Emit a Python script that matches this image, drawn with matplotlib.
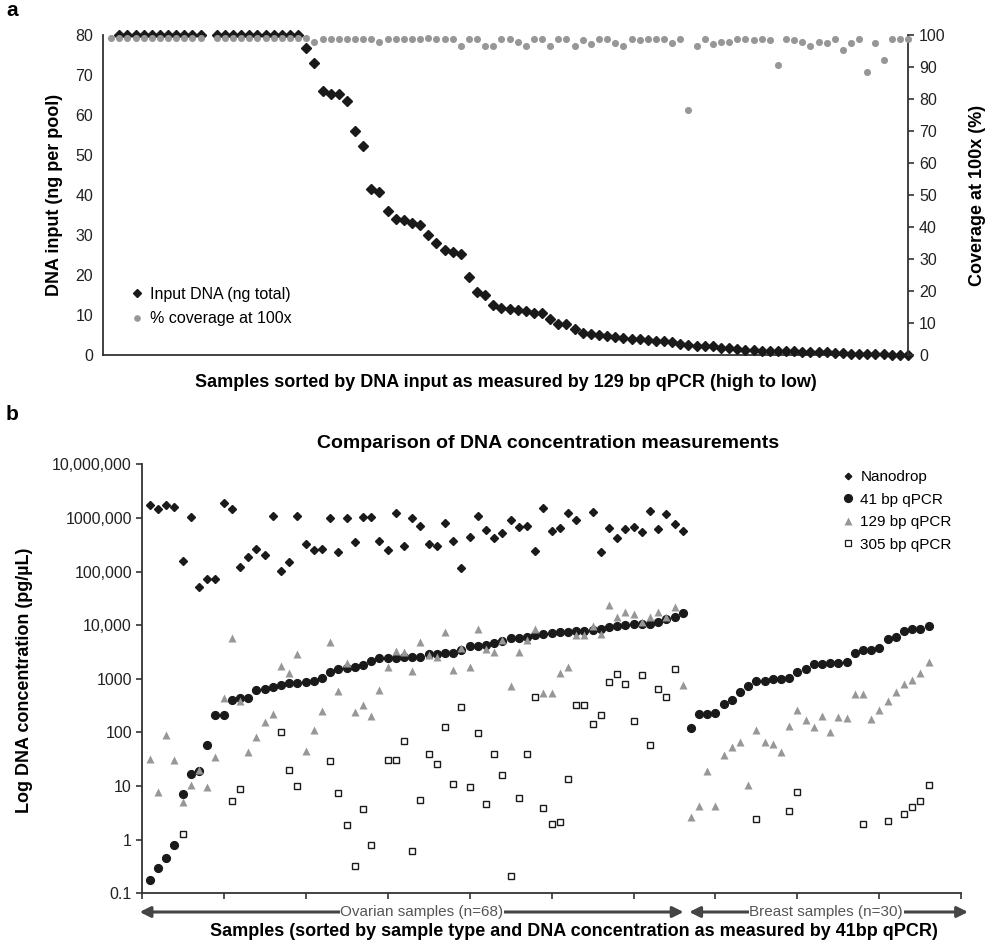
import numpy as np
import matplotlib
matplotlib.use('Agg')
import matplotlib.pyplot as plt
from matplotlib.lines import Line2D
from matplotlib.ticker import NullLocator
import matplotlib.transforms as mtransforms

plt.rcParams['font.family'] = ['Liberation Sans', 'DejaVu Sans']

nan = np.nan

# ---- panel a: samples sorted by 129 bp qPCR input (x = 1..99) ----
input_ng = [nan] + [80] * 11 + [nan] + [80] * 11 + [
    76.8, 73.1, 65.9, 65.3, 65.3, 63.4, 55.9, 52.3, 41.5, 40.7,
    36.0, 33.9, 33.7, 33.1, 32.5, 30.1, 28.1, 26.2, 25.7, 25.3,
    19.4, 15.8, 15.0, 12.5, 11.7, 11.5, 11.2, 11.0, 10.4, 10.4,
    9.1, 7.7, 7.7, 6.5, 5.4, 5.2, 5.1, 4.8, 4.6, 4.2,
    4.0, 4.0, 3.7, 3.5, 3.4, 3.2, 2.7, 2.5, 2.2, 2.2,
    2.2, 1.8, 1.7, 1.4, 1.3, 1.3, 1.1, 1.1, 1.0, 1.0,
    1.0, 0.8, 0.8, 0.8, 0.7, 0.5, 0.4, 0.3, 0.3, 0.2,
    0.2, 0.2, 0.1, 0.1, 0.1]

coverage = [99.0] * 12 + [nan] + [99.0] * 11 + [
    99.2, 97.7, 98.6, 98.8, 98.8, 98.8, 98.8, 98.8, 98.8, 97.9,
    98.8, 98.8, 98.8, 98.6, 98.6, 99.0, 98.7, 98.8, 98.8, 96.7,
    98.8, 98.8, 96.7, 96.7, 98.8, 98.8, 97.9, 96.7, 98.8, 98.8,
    96.7, 98.8, 98.8, 96.7, 98.4, 97.2, 98.8, 98.8, 97.6, 96.7,
    98.8, 98.4, 98.8, 98.8, 98.8, 97.6, 98.8, 76.5, 96.7, 98.8,
    97.2, 97.9, 97.9, 98.8, 98.8, 98.4, 98.8, 98.4, 90.7, 98.8,
    98.4, 97.7, 96.7, 97.7, 97.6, 98.8, 95.2, 97.4, 98.8, 88.4,
    97.4, 92.2, 98.8, 98.8, 98.8]

# ---- panel b: 66 ovarian + 30 breast samples ----
nanodrop = [
    1.74e6, 1.47e6, 1.74e6, 1.62e6, 1.6e5, 1.04e6, 5.07e4, 7.26e4, 7.26e4, 1.90e6,
    1.49e6, 1.20e5, 1.84e5, 2.59e5, 2.00e5, 1.10e6, 1.04e5, 1.51e5, 1.07e6, 3.26e5,
    2.48e5, 2.67e5, 9.82e5, 2.28e5, 9.82e5, 3.60e5, 1.02e6, 1.02e6, 3.76e5, 2.51e5,
    1.22e6, 3.03e5, 9.82e5, 6.97e5, 3.21e5, 3.03e5, 8.03e5, 3.71e5, 1.18e5, 4.40e5,
    1.08e6, 6.04e5, 4.29e5, 5.31e5, 9.02e5, 6.67e5, 6.97e5, 2.38e5, 1.51e6, 5.70e5,
    6.58e5, 1.25e6, 9.02e5, nan, 1.31e6, 2.35e5, 6.49e5, 4.22e5, 6.31e5, 6.67e5,
    5.38e5, 1.33e6, 6.12e5, 1.18e6, 7.59e5, 5.78e5] + [nan] * 30

qpcr_41 = [
    0.18, 0.30, 0.46, 0.80, 7.2, 17, 19, 59, 211, 211,
    397, 439, 445, 627, 645, 703, 766, 823, 823, 885,
    923, 1050, 1320, 1546, 1590, 1683, 1808, 2178, 2408, 2408,
    2408, 2548, 2587, 2587, 2900, 2930, 3027, 3070, 3444, 4150,
    4150, 4267, 4583, 5070, 5680, 5680, 6105, 6560, 6845, 7250,
    7565, 7565, 7780, 7780, 8130, 8360, 9370, 9790, 10070, 10370,
    10520, 10670, 11620, 13030, 14400, 17100,
    123, 217, 224, 233, 339, 403, 576, 745, 910, 923,
    977, 991, 1050, 1320, 1524, 1862, 1862, 1942, 2000, 2028,
    2985, 3397, 3397, 3700, 5521, 6105, 7890, 8360, 8490, 9660]

qpcr_129 = [
    32, 7.9, 90, 30, 5.1, 10.5, 19.6, 9.5, 35, 445,
    5850, 385, 44, 83, 154, 221, 1706, 1264, 2858, 45,
    111, 255, 4786, 593, 2000, 237, 325, 202, 627, 1683,
    3296, 3160, 1420, 4920, 2780, 2587, 7565, 1459, 3800, 1637,
    8490, 3594, 3208, 5295, 745, 3208, 5295, 8490, 551, 551,
    1301, 1637, 6560, 6560, 9790, 6750, 23770, 14400, 17860, 15920,
    11620, 14400, 17350, 14000, 22130, 766,
    2.7, 4.3, 19.1, 4.3, 38, 53, 65, 10.5, 109, 67,
    61, 44, 134, 262, 171, 124, 202, 103, 191, 183,
    513, 513, 178, 262, 391, 576, 788, 951, 1264, 2084]

qpcr_305 = [
    nan, nan, nan, nan, 1.3, nan, nan, nan, nan, nan,
    5.3, 8.8, nan, nan, nan, nan, 100, 20, 10, nan,
    nan, nan, 29, 7.3, 1.85, 0.32, 3.7, 0.8, nan, 30.6,
    30.6, 69, 0.62, 5.5, 39, 25.4, 124, 10.8, 294, 9.7,
    99, 4.7, 39.6, 16.1, 0.21, 6.1, 39.6, 458, 3.96, 1.94,
    2.14, 13.7, 320, 320, 146, 208, 859, 1211, 788, 163,
    1177, 58, 645, 464, 1524, nan,
    nan, nan, nan, nan, nan, nan, nan, nan, 2.4, nan,
    nan, nan, 3.4, 7.6, nan, nan, nan, nan, nan, nan,
    nan, 1.94, nan, nan, 2.26, nan, 3.0, 4.1, 5.3, 10.5]

log_ticks = [0.1, 1, 10, 100, 1000, 1e4, 1e5, 1e6, 1e7]
log_tick_labels = ['0.1', '1', '10', '100', '1000', '10,000', '100,000',
                   '1000,000', '10,000,000']

W, H = 989, 948
dark = '#1a1a1a'
grey = '#979797'
spine_c = '#333333'


def fx(px):
    return px / W


def fy(py):
    return 1 - py / H


fig = plt.figure(figsize=(W / 100, H / 100), dpi=100)

# ---------------- panel a ----------------
ax1 = fig.add_axes([fx(103), fy(355), fx(908 - 103), (355 - 35) / H])
ax2 = ax1.twinx()

x_a = np.arange(1, len(input_ng) + 1)
ax1.plot(x_a, input_ng, linestyle='none', marker='D', ms=4.6,
         color=dark, clip_on=False, zorder=3)
ax2.plot(x_a, coverage, linestyle='none', marker='o', ms=5.1,
         color=grey, mec='none', clip_on=False, zorder=3)

ax1.set_xlim(0, 99)
ax1.set_ylim(0, 80)
ax2.set_ylim(0, 100)
ax1.set_xticks([])
ax1.set_yticks(range(0, 81, 10))
ax2.set_yticks(range(0, 101, 10))
ax1.tick_params(axis='y', length=0, pad=7, labelsize=11.5, colors='#222222')
ax2.tick_params(axis='y', length=4, width=1.2, pad=4, labelsize=11.5,
                colors='#222222', color=spine_c)

for sp in ['top', 'right']:
    ax1.spines[sp].set_visible(False)
for sp in ['top', 'left', 'bottom']:
    ax2.spines[sp].set_visible(False)
for sp in ['left', 'bottom']:
    ax1.spines[sp].set_linewidth(1.3)
    ax1.spines[sp].set_color(spine_c)
ax2.spines['right'].set_linewidth(1.3)
ax2.spines['right'].set_color(spine_c)

handles_a = [
    Line2D([], [], linestyle='none', marker='D', ms=4.2, color=dark),
    Line2D([], [], linestyle='none', marker='o', ms=4.8, color=grey, mec='none'),
]
ax2.legend(handles_a, ['Input DNA (ng total)', '% coverage at 100x'],
           loc='lower left', bbox_to_anchor=(0.015, 0.045), frameon=False,
           fontsize=11.5, handletextpad=0.3, handlelength=1.0,
           labelspacing=0.6)

fig.text(fx(55), fy(195), 'DNA input (ng per pool)', rotation=90,
         ha='center', va='center', fontsize=13, fontweight='bold')
fig.text(fx(977), fy(195), 'Coverage at 100x (%)', rotation=90,
         ha='center', va='center', fontsize=13, fontweight='bold')
fig.text(fx(506), fy(382),
         'Samples sorted by DNA input as measured by 129 bp qPCR (high to low)',
         ha='center', va='center', fontsize=13, fontweight='bold')
fig.text(fx(12), fy(10), 'a', ha='center', va='center', fontsize=15,
         fontweight='bold')

# ---------------- panel b ----------------
axb = fig.add_axes([fx(141.7), fy(893.3), fx(961.4 - 141.7), (893.3 - 464.3) / H])
x_b = np.arange(1, len(qpcr_41) + 1)

axb.plot(x_b, nanodrop, linestyle='none', marker='D', ms=3.7, color=dark,
         zorder=3)
axb.plot(x_b, qpcr_41, linestyle='none', marker='o', ms=5.6, color=dark,
         zorder=3)
axb.plot(x_b, qpcr_129, linestyle='none', marker='^', ms=5.8, color=grey,
         mec='none', zorder=3)
axb.plot(x_b, qpcr_305, linestyle='none', marker='s', ms=4.6, mfc='white',
         mec=dark, mew=1.0, zorder=3)

axb.set_yscale('log')
axb.set_ylim(0.1, 1e7)
axb.set_xlim(0, 100)
axb.set_yticks(log_ticks)
axb.set_yticklabels(log_tick_labels)
axb.yaxis.set_minor_locator(NullLocator())
axb.set_xticks(range(0, 101, 10))
axb.set_xticklabels([])
axb.tick_params(axis='y', length=4, width=1.2, pad=3, labelsize=11.5,
                colors='#222222', color=spine_c)
axb.tick_params(axis='x', length=4, width=1.2, color=spine_c)
for sp in ['top', 'right']:
    axb.spines[sp].set_visible(False)
for sp in ['left', 'bottom']:
    axb.spines[sp].set_linewidth(1.3)
    axb.spines[sp].set_color(spine_c)

handles_b = [
    Line2D([], [], linestyle='none', marker='D', ms=3.3, color=dark),
    Line2D([], [], linestyle='none', marker='o', ms=5.6, color=dark),
    Line2D([], [], linestyle='none', marker='^', ms=5.2, color=grey, mec='none'),
    Line2D([], [], linestyle='none', marker='s', ms=4.3, mfc='white',
           mec=dark, mew=0.9),
]
axb.legend(handles_b, ['Nanodrop', '41 bp qPCR', '129 bp qPCR', '305 bp qPCR'],
           loc='upper left', bbox_to_anchor=(0.845, 1.0), frameon=False,
           fontsize=11, handletextpad=0.3, handlelength=1.0,
           labelspacing=0.55, borderaxespad=0)

# sample-group arrows under the axis
trans = mtransforms.blended_transform_factory(axb.transData, axb.transAxes)
arrow_y = -(912 - 893.3) / (893.3 - 464.3)
arrow_kw = dict(arrowstyle='<|-|>', color='#454545', lw=2.2,
                mutation_scale=16, shrinkA=0, shrinkB=0)
axb.annotate('', xy=(66.1, arrow_y), xytext=(-0.25, arrow_y),
             xycoords=trans, textcoords=trans, arrowprops=arrow_kw,
             annotation_clip=False)
axb.annotate('', xy=(100.8, arrow_y), xytext=(66.8, arrow_y),
             xycoords=trans, textcoords=trans, arrowprops=arrow_kw,
             annotation_clip=False)
axb.text(34.2, arrow_y, 'Ovarian samples (n=68)', transform=trans,
         ha='center', va='center', fontsize=11, color='#555555', zorder=5,
         bbox=dict(facecolor='white', edgecolor='none', pad=0.5))
axb.text(83.5, arrow_y, 'Breast samples (n=30)', transform=trans,
         ha='center', va='center', fontsize=11, color='#555555', zorder=5,
         bbox=dict(facecolor='white', edgecolor='none', pad=0.5))

fig.text(fx(548), fy(443), 'Comparison of DNA concentration measurements',
         ha='center', va='center', fontsize=14, fontweight='bold')
fig.text(fx(574), fy(931),
         'Samples (sorted by sample type and DNA concentration as measured by 41bp qPCR)',
         ha='center', va='center', fontsize=13, fontweight='bold')
fig.text(fx(25), fy(680), 'Log DNA concentration (pg/µL)', rotation=90,
         ha='center', va='center', fontsize=13, fontweight='bold')
fig.text(fx(12), fy(415), 'b', ha='center', va='center', fontsize=15,
         fontweight='bold')

fig.savefig('out.png', dpi=100)
